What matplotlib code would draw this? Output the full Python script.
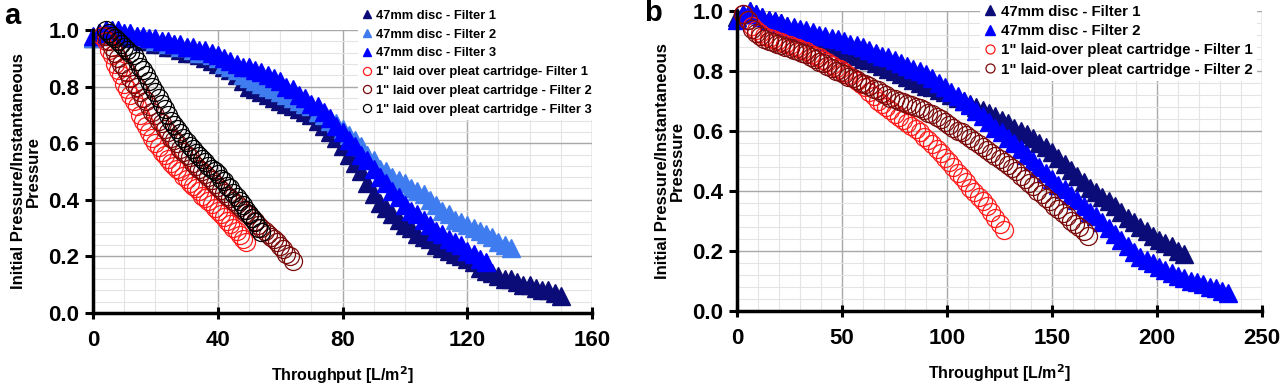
import matplotlib
matplotlib.use("Agg")
import matplotlib.pyplot as plt
from matplotlib.ticker import MultipleLocator

plt.rcParams["font.family"] = ["Liberation Sans", "DejaVu Sans"]
plt.rcParams["font.weight"] = "bold"

# ---------------- panel a data ----------------
a_f1_x = list(range(0, 151, 2))
a_f1_y = [0.97, 0.99, 1.00, 0.99, 0.98, 0.98, 0.97, 0.97, 0.96, 0.96,
          0.95, 0.95, 0.94, 0.94, 0.93, 0.92, 0.92, 0.91, 0.90, 0.89,
          0.88, 0.87, 0.86, 0.84, 0.82, 0.80, 0.79, 0.78, 0.77, 0.76,
          0.75, 0.74, 0.73, 0.72, 0.71, 0.70, 0.68, 0.66, 0.64, 0.62,
          0.59, 0.56, 0.53, 0.50, 0.46, 0.42, 0.39, 0.37, 0.35, 0.33,
          0.31, 0.30, 0.28, 0.27, 0.26, 0.24, 0.23, 0.22, 0.21, 0.20,
          0.19, 0.18, 0.16, 0.15, 0.14, 0.13, 0.12, 0.12, 0.11, 0.10,
          0.10, 0.09, 0.08, 0.08, 0.07, 0.06]

a_f2_x = list(range(0, 135, 2))
a_f2_y = [0.97, 0.98, 0.99, 1.00, 1.00, 0.99, 0.99, 0.98, 0.97, 0.97,
          0.96, 0.96, 0.95, 0.95, 0.94, 0.94, 0.93, 0.92, 0.92, 0.91,
          0.90, 0.88, 0.87, 0.86, 0.84, 0.83, 0.82, 0.81, 0.80, 0.79,
          0.78, 0.77, 0.76, 0.75, 0.74, 0.73, 0.71, 0.70, 0.68, 0.67,
          0.65, 0.63, 0.61, 0.59, 0.56, 0.54, 0.51, 0.50, 0.48, 0.47,
          0.46, 0.44, 0.43, 0.42, 0.40, 0.38, 0.36, 0.35, 0.33, 0.32,
          0.31, 0.30, 0.29, 0.28, 0.27, 0.25, 0.24, 0.23]

a_f3_x = list(range(0, 127, 2))
a_f3_y = [0.98, 0.99, 1.00, 1.00, 1.00, 0.99, 0.99, 0.98, 0.98, 0.97,
          0.97, 0.96, 0.96, 0.95, 0.95, 0.94, 0.94, 0.93, 0.93, 0.92,
          0.91, 0.90, 0.89, 0.88, 0.87, 0.87, 0.86, 0.85, 0.84, 0.83,
          0.82, 0.80, 0.79, 0.77, 0.76, 0.74, 0.73, 0.71, 0.69, 0.66,
          0.64, 0.61, 0.59, 0.56, 0.54, 0.51, 0.48, 0.46, 0.43, 0.41,
          0.38, 0.36, 0.35, 0.33, 0.31, 0.29, 0.28, 0.26, 0.25, 0.24,
          0.22, 0.21, 0.19, 0.18]

a_c1_x = list(range(3, 50))
a_c1_y = [0.98, 0.96, 0.93, 0.91, 0.88, 0.86, 0.84, 0.81, 0.79, 0.77,
          0.75, 0.73, 0.70, 0.68, 0.66, 0.64, 0.62, 0.60, 0.585, 0.57,
          0.56, 0.545, 0.53, 0.52, 0.51, 0.50, 0.485, 0.475, 0.46, 0.45,
          0.44, 0.43, 0.415, 0.405, 0.395, 0.385, 0.37, 0.36, 0.35, 0.34,
          0.325, 0.315, 0.30, 0.29, 0.275, 0.26, 0.25]

a_c2_x = list(range(4, 65))
a_c2_y = [0.98, 0.96, 0.94, 0.92, 0.90, 0.88, 0.87, 0.85, 0.83, 0.81,
          0.80, 0.78, 0.76, 0.75, 0.73, 0.71, 0.70, 0.68, 0.67, 0.65,
          0.64, 0.62, 0.61, 0.60, 0.58, 0.57, 0.56, 0.55, 0.53, 0.52,
          0.51, 0.50, 0.49, 0.48, 0.47, 0.455, 0.445, 0.435, 0.425, 0.415,
          0.405, 0.395, 0.385, 0.375, 0.365, 0.355, 0.345, 0.335, 0.325, 0.31,
          0.30, 0.29, 0.28, 0.27, 0.26, 0.25, 0.235, 0.225, 0.21, 0.20, 0.185]

a_c3_x = list(range(4, 55))
a_c3_y = [1.00, 0.99, 0.98, 0.97, 0.96, 0.95, 0.94, 0.93, 0.92, 0.91,
          0.89, 0.87, 0.86, 0.84, 0.82, 0.80, 0.78, 0.76, 0.74, 0.72,
          0.70, 0.68, 0.665, 0.65, 0.635, 0.62, 0.605, 0.59, 0.58, 0.565,
          0.555, 0.545, 0.535, 0.52, 0.51, 0.50, 0.49, 0.475, 0.465, 0.45,
          0.44, 0.425, 0.41, 0.395, 0.38, 0.365, 0.35, 0.335, 0.32, 0.30, 0.285]

# ---------------- panel b data ----------------
b_f1_x = list(range(0, 214, 3))
b_f1_y = [0.98, 0.99, 1.00, 0.99, 0.98, 0.97, 0.965, 0.96, 0.95, 0.94,
          0.93, 0.925, 0.92, 0.91, 0.90, 0.89, 0.88, 0.87, 0.86, 0.85,
          0.84, 0.835, 0.825, 0.815, 0.805, 0.80, 0.79, 0.78, 0.77, 0.76,
          0.75, 0.745, 0.735, 0.73, 0.72, 0.71, 0.70, 0.69, 0.68, 0.67,
          0.66, 0.65, 0.635, 0.625, 0.61, 0.60, 0.59, 0.575, 0.56, 0.545,
          0.53, 0.51, 0.49, 0.47, 0.45, 0.43, 0.41, 0.395, 0.38, 0.365,
          0.35, 0.33, 0.31, 0.295, 0.28, 0.265, 0.25, 0.235, 0.225, 0.215,
          0.20, 0.19]

b_f2_x = list(range(0, 235, 3))
b_f2_y = [0.97, 0.99, 1.00, 0.99, 0.98, 0.97, 0.965, 0.96, 0.95, 0.945,
          0.94, 0.935, 0.93, 0.92, 0.915, 0.91, 0.905, 0.90, 0.89, 0.885,
          0.88, 0.87, 0.86, 0.85, 0.845, 0.835, 0.825, 0.815, 0.805, 0.80,
          0.79, 0.775, 0.76, 0.745, 0.73, 0.715, 0.70, 0.685, 0.665, 0.65,
          0.63, 0.61, 0.595, 0.575, 0.56, 0.54, 0.52, 0.50, 0.48, 0.46,
          0.44, 0.42, 0.405, 0.385, 0.37, 0.35, 0.33, 0.315, 0.295, 0.275,
          0.255, 0.235, 0.215, 0.195, 0.18, 0.17, 0.16, 0.145, 0.135, 0.125,
          0.115, 0.11, 0.10, 0.095, 0.09, 0.08, 0.075, 0.065, 0.06]

b_c1_x = list(range(3, 128, 2))
b_c1_y = [0.99, 0.97, 0.95, 0.935, 0.925, 0.915, 0.91, 0.905, 0.90, 0.895,
          0.89, 0.885, 0.88, 0.875, 0.87, 0.865, 0.855, 0.85, 0.845, 0.835,
          0.83, 0.82, 0.81, 0.805, 0.795, 0.785, 0.775, 0.765, 0.755, 0.745,
          0.73, 0.715, 0.70, 0.69, 0.68, 0.67, 0.655, 0.645, 0.635, 0.625,
          0.615, 0.605, 0.595, 0.58, 0.57, 0.555, 0.54, 0.525, 0.51, 0.495,
          0.48, 0.46, 0.445, 0.43, 0.41, 0.395, 0.38, 0.365, 0.35, 0.33,
          0.31, 0.29, 0.27]

b_c2_x = list(range(3, 168, 2))
b_c2_y = [0.99, 0.97, 0.94, 0.925, 0.915, 0.905, 0.90, 0.895, 0.89, 0.885,
          0.88, 0.875, 0.87, 0.865, 0.86, 0.855, 0.845, 0.84, 0.83, 0.825,
          0.815, 0.81, 0.80, 0.795, 0.79, 0.78, 0.775, 0.77, 0.76, 0.755,
          0.75, 0.74, 0.735, 0.725, 0.72, 0.71, 0.705, 0.70, 0.695, 0.69,
          0.685, 0.68, 0.675, 0.67, 0.66, 0.655, 0.645, 0.64, 0.63, 0.62,
          0.61, 0.60, 0.595, 0.585, 0.575, 0.565, 0.555, 0.545, 0.535, 0.525,
          0.515, 0.505, 0.495, 0.485, 0.475, 0.465, 0.45, 0.44, 0.425, 0.415,
          0.40, 0.39, 0.375, 0.365, 0.35, 0.34, 0.325, 0.315, 0.30, 0.29,
          0.28, 0.265, 0.25]

NAVY = "#0c0c78"
LIGHT_BLUE = "#3f7cf0"
BLUE = "#0000ff"
RED = "#ff1a1a"
DARK_RED = "#7a0a0a"
BLACK = "#000000"

fig = plt.figure(figsize=(12.8, 3.88), dpi=100)
ax1 = fig.add_axes([0.0727, 0.1933, 0.3898, 0.7294])
ax2 = fig.add_axes([0.5758, 0.1985, 0.4102, 0.7732])


def tri(ax, x, y, color, label):
    ax.plot(x, y, linestyle="none", marker="^", markersize=13, color=color,
            markeredgecolor=color, label=label, clip_on=False, zorder=3)


def circ(ax, x, y, color, label, ms):
    ax.plot(x, y, linestyle="none", marker="o", markersize=ms, markerfacecolor="none",
            markeredgecolor=color, markeredgewidth=0.9, label=label, clip_on=False, zorder=4)


tri(ax1, a_f1_x, a_f1_y, NAVY, "47mm disc - Filter 1")
tri(ax1, a_f2_x, a_f2_y, LIGHT_BLUE, "47mm disc - Filter 2")
tri(ax1, a_f3_x, a_f3_y, BLUE, "47mm disc - Filter 3")
circ(ax1, a_c1_x, a_c1_y, RED, "1\" laid over pleat cartridge- Filter 1", 13)
circ(ax1, a_c2_x, a_c2_y, DARK_RED, "1\" laid over pleat cartridge - Filter 2", 13)
circ(ax1, a_c3_x, a_c3_y, BLACK, "1\" laid over pleat cartridge - Filter 3", 13)

tri(ax2, b_f1_x, b_f1_y, NAVY, "47mm disc - Filter 1")
tri(ax2, b_f2_x, b_f2_y, BLUE, "47mm disc - Filter 2")
circ(ax2, b_c1_x, b_c1_y, RED, "1\" laid-over pleat cartridge - Filter 1", 13)
circ(ax2, b_c2_x, b_c2_y, DARK_RED, "1\" laid-over pleat cartridge - Filter 2", 13)

for ax, xmax, xmaj, ylab in [(ax1, 160, 40, "Initial Pressure/Instantaneous\nPressure"),
                             (ax2, 250, 50, "Initial Pressure/Instantaneous\nPresssure")]:
    ax.set_xlim(0, xmax)
    ax.set_ylim(0, 1.0)
    ax.xaxis.set_major_locator(MultipleLocator(xmaj))
    ax.xaxis.set_minor_locator(MultipleLocator(10))
    ax.yaxis.set_major_locator(MultipleLocator(0.2))
    ax.yaxis.set_minor_locator(MultipleLocator(0.04))
    ax.grid(which="major", color="#a8a8a8", linewidth=1.0, zorder=0)
    ax.grid(which="minor", color="#e4e4e4", linewidth=0.8, zorder=0)
    ax.set_axisbelow(True)
    for s in ["top", "right"]:
        ax.spines[s].set_visible(False)
    for s in ["left", "bottom"]:
        ax.spines[s].set_linewidth(2.5)
        ax.spines[s].set_zorder(5)
    ax.tick_params(axis="x", which="major", direction="inout", length=9, width=2.2, pad=8)
    ax.tick_params(axis="y", which="major", direction="out", length=6, width=2.2, pad=4)
    ax.tick_params(which="minor", length=0)
    ax.yaxis.set_major_formatter(plt.FormatStrFormatter("%.1f"))
    for t in ax.get_xticklabels() + ax.get_yticklabels():
        t.set_fontweight("bold")
        t.set_fontsize(16)
    ax.set_xlabel("Throughput [L/m$^\\mathbf{2}$]", fontsize=11.5, fontweight="bold",
                  labelpad=9)
    ax.set_ylabel(ylab, fontsize=12, fontweight="bold", labelpad=5, linespacing=1.05)

leg1 = ax1.legend(loc="upper right", bbox_to_anchor=(596 / 1280, 1 - 6 / 388),
                  bbox_transform=fig.transFigure, fontsize=9.3, markerscale=0.45,
                  handlelength=0.8, handletextpad=0.3, labelspacing=0.52, borderpad=0.3,
                  frameon=True, facecolor="white", edgecolor="none", framealpha=1,
                  borderaxespad=0)
leg1.set_zorder(10)
for t in leg1.get_texts():
    t.set_fontweight("bold")

leg2 = ax2.legend(loc="upper right", bbox_to_anchor=(1257 / 1280, 1 - 0 / 388),
                  bbox_transform=fig.transFigure, fontsize=10.8, markerscale=0.5,
                  handlelength=0.8, handletextpad=0.3, labelspacing=0.36, borderpad=0.3,
                  frameon=True, facecolor="white", edgecolor="none", framealpha=1,
                  borderaxespad=0)
leg2.set_zorder(10)
for t in leg2.get_texts():
    t.set_fontweight("bold")

fig.text(4 / 1280, 1 - 16 / 388, "a", fontsize=21, fontweight="bold", va="center", ha="left")
fig.text(644 / 1280, 1 - 13 / 388, "b", fontsize=21, fontweight="bold", va="center", ha="left")

fig.savefig("out.png", dpi=100)
